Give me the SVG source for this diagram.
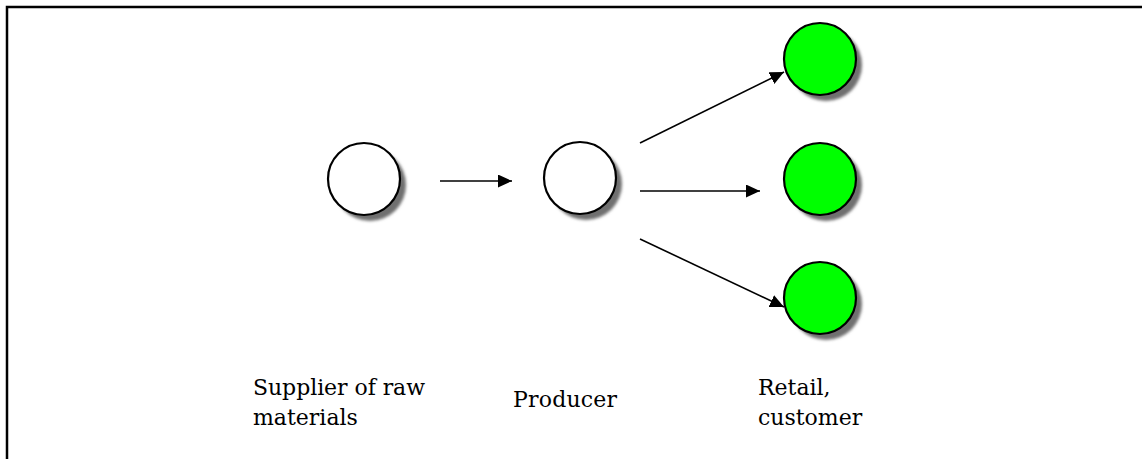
<svg xmlns="http://www.w3.org/2000/svg" width="1142" height="459" viewBox="0 0 1142 459">
  <style>
    .frame { fill: none; stroke: #000; stroke-width: 2.5; }
    .shadow { fill: #707070; filter: url(#soft); }
    .node-white { fill: #fff; stroke: #000; stroke-width: 2.2; }
    .node-green { fill: #00ff00; stroke: #000; stroke-width: 2.2; }
    .edge { stroke: #000; stroke-width: 1.6; fill: none; marker-end: url(#arrow); }
    .label { font-family: "DejaVu Serif", "Liberation Serif", serif; font-size: 22px; fill: #000; }
  </style>
  <defs>
    <filter id="soft" x="-20%" y="-20%" width="140%" height="140%">
      <feGaussianBlur stdDeviation="1.5"/>
    </filter>
    <marker id="arrow" viewBox="0 0 14 13" refX="14" refY="6.5" markerWidth="14" markerHeight="13" markerUnits="userSpaceOnUse" orient="auto">
      <path d="M0,0 L14,6.5 L0,13 z" fill="#000"/>
    </marker>
  </defs>

  <rect width="1142" height="459" fill="#fff"/>
  <!-- page frame: top and left rules -->
  <path class="frame" d="M7,460 L7,7 L1143,7"/>

  <g id="supplier">
    <circle class="shadow" cx="370" cy="185" r="36"/>
    <circle class="node-white" cx="364" cy="179" r="36"/>
  </g>
  <g id="producer">
    <circle class="shadow" cx="586" cy="184" r="36"/>
    <circle class="node-white" cx="580" cy="178" r="36"/>
  </g>
  <g id="retail-top">
    <circle class="shadow" cx="826" cy="65" r="36"/>
    <circle class="node-green" cx="820" cy="59" r="36"/>
  </g>
  <g id="retail-mid">
    <circle class="shadow" cx="826" cy="185" r="36"/>
    <circle class="node-green" cx="820" cy="179" r="36"/>
  </g>
  <g id="retail-bottom">
    <circle class="shadow" cx="826" cy="304" r="36"/>
    <circle class="node-green" cx="820" cy="298" r="36"/>
  </g>

  <g id="connectors">
    <line class="edge" x1="440" y1="181" x2="512" y2="181"/>
    <line class="edge" x1="640" y1="191" x2="760" y2="191"/>
    <line class="edge" x1="640" y1="143" x2="784" y2="72"/>
    <line class="edge" x1="640" y1="239" x2="784" y2="307"/>
  </g>

  <g id="labels">
    <text class="label" x="253" y="395" textLength="172">Supplier of raw</text>
    <text class="label" x="253" y="425">materials</text>
    <text class="label" x="513" y="407" textLength="104">Producer</text>
    <text class="label" x="758" y="395">Retail,</text>
    <text class="label" x="758" y="425">customer</text>
  </g>
</svg>
